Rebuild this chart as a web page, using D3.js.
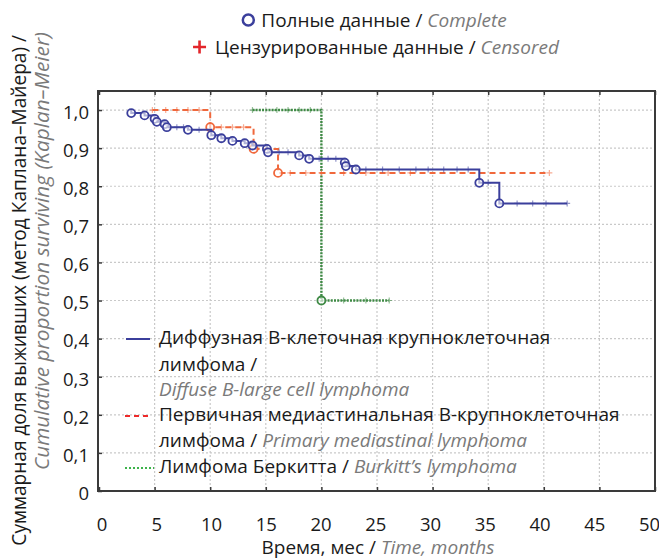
<!DOCTYPE html>
<html>
<head>
<meta charset="utf-8">
<script src="https://cdn.jsdelivr.net/npm/d3@7/dist/d3.min.js"></script>
<style>
  html, body { margin: 0; padding: 0; background: #fff; }
  svg { display: block; font-family: "Open Sans", "Noto Sans", sans-serif; }
</style>
</head>
<body>
<svg id="chart" width="659" height="560"></svg>
<script>
// Kaplan–Meier survival by lymphoma type (time in months)

// Diffuse large B-cell lymphoma: event times and survival after each event
const dlbclStart = 2.9;
const dlbclEnd = 42.1;
const dlbclTimes = [2.9, 4.1, 5.0, 5.2, 5.9, 6.1, 8.0, 10.1, 11.0, 12.0, 13.1, 13.8, 15.1, 15.2, 18.0, 18.9, 22.1, 22.2, 23.1, 34.2, 36.0];
const dlbclSurv  = [0.992, 0.986, 0.977, 0.969, 0.963, 0.955, 0.948, 0.934, 0.926, 0.919, 0.913, 0.907, 0.898, 0.889, 0.881, 0.872, 0.862, 0.853, 0.844, 0.809, 0.755];
const dlbclCensored = [7.0, 7.6, 9.0, 16.2, 17.0, 19.8, 20.6, 21.3, 24.0, 25.5, 27.0, 28.5, 29.6, 31.0, 32.2, 33.2, 35.0, 37.6, 39.0, 40.2, 42.1];

// Primary mediastinal large B-cell lymphoma
const pmblStart = 4.8;
const pmblEnd = 40.5;
const pmblTimes = [10.0, 13.9, 16.1];
const pmblSurv  = [0.955, 0.898, 0.835];
const pmblCensored = [4.8, 6.0, 7.0, 8.0, 9.0, 11.0, 12.0, 13.0, 15.0, 17.2, 18.6, 20.0, 22.0, 24.0, 26.0, 28.0, 40.5];

// Burkitt's lymphoma
const burkittStart = 13.8;
const burkittEnd = 26.1;
const burkittTimes = [20.0];
const burkittSurv  = [0.5];
const burkittCensored = [13.8, 16.0, 17.0, 18.0, 19.0, 22.0, 24.0, 26.1];

// Axis ticks
const xTicks = [0, 5, 10, 15, 20, 25, 30, 35, 40, 45, 50];
const yTicks = [0, 0.1, 0.2, 0.3, 0.4, 0.5, 0.6, 0.7, 0.8, 0.9, 1.0];

const svg = d3.select("#chart");
const frame = { left: 98, right: 655, top: 91, bottom: 491 };
const FS = 19;

const x = d3.scaleLinear().domain([0, 50]).range([frame.left + 1, frame.right]);
const y = d3.scaleLinear().domain([0, 1.05]).range([frame.bottom, frame.top]);

const colors = {
  dlbcl: "#3b3f9c",
  pmbl: "#f0683c",
  pmblLegend: "#ee2a2a",
  burkitt: "#3f8a45",
  burkittLegend: "#3db34b",
  grid: "#c9c9c9",
  axis: "#3a3a3a",
  text: "#1a1a1a",
  sub: "#7a7a7a",
  censorMark: "#e3262b"
};

// Grid
const grid = svg.append("g");
grid.selectAll("line.gx")
  .data(xTicks.filter(d => d > 0 && d < 50))
  .join("line")
  .attr("x1", d => x(d)).attr("x2", d => x(d))
  .attr("y1", frame.top).attr("y2", frame.bottom)
  .attr("stroke", colors.grid).attr("stroke-width", 1.2)
  .attr("stroke-dasharray", "2,2");
grid.selectAll("line.gy")
  .data(yTicks.filter(d => d > 0))
  .join("line")
  .attr("y1", d => y(d)).attr("y2", d => y(d))
  .attr("x1", frame.left).attr("x2", frame.right)
  .attr("stroke", colors.grid).attr("stroke-width", 1.2)
  .attr("stroke-dasharray", "2,2");

// Axes with inward ticks
const fmt = d => d === 0 ? "0" : d3.format(".1f")(d).replace(".", ",");
const yAxis = svg.append("g")
  .attr("transform", `translate(${frame.left},0)`)
  .call(d3.axisLeft(y).tickValues(yTicks).tickSize(-4).tickPadding(9).tickFormat(fmt));
const xAxis = svg.append("g")
  .attr("transform", `translate(0,${frame.bottom})`)
  .call(d3.axisBottom(x).tickValues(xTicks).tickSize(-4).tickPadding(27).tickFormat(d3.format("d")));
svg.append("g")
  .attr("transform", `translate(0,${frame.top})`)
  .call(d3.axisTop(x).tickValues(xTicks).tickSize(-4).tickFormat(""));

[yAxis, xAxis].forEach(g => {
  g.selectAll(".tick text")
    .attr("fill", colors.text)
    .style("font-size", "18.5px")
    .style("font-family", "'Open Sans', sans-serif");
});
yAxis.selectAll(".tick text").attr("dy", "0.45em");
// time labels sit slightly inward toward the right end
xAxis.selectAll(".tick text").attr("dx", d => 2.5 - d * 0.17);
svg.selectAll(".domain").remove();
svg.selectAll(".tick line").attr("stroke", colors.axis).attr("stroke-width", 1.5);

// Step path helper
function stepPoints(start, end, times, surv) {
  const pts = [[start, 1.0]];
  let level = 1.0;
  times.forEach((t, i) => {
    pts.push([t, level]);
    level = surv[i];
    pts.push([t, level]);
  });
  pts.push([end, level]);
  return pts;
}
function levelAt(t, times, surv) {
  let level = 1.0;
  times.forEach((ti, i) => { if (ti <= t) level = surv[i]; });
  return level;
}
const line = d3.line().x(d => x(d[0])).y(d => y(d[1]));

const series = [
  { key: "burkitt", start: burkittStart, end: burkittEnd, times: burkittTimes, surv: burkittSurv, cens: burkittCensored,
    color: colors.burkitt, width: 2.4, dash: "2,1.2" },
  { key: "pmbl", start: pmblStart, end: pmblEnd, times: pmblTimes, surv: pmblSurv, cens: pmblCensored,
    color: colors.pmbl, width: 2, dash: "6,4" },
  { key: "dlbcl", start: dlbclStart, end: dlbclEnd, times: dlbclTimes, surv: dlbclSurv, cens: dlbclCensored,
    color: colors.dlbcl, width: 2, dash: null }
];

const plot = svg.append("g");
series.forEach(s => {
  plot.append("path")
    .datum(stepPoints(s.start, s.end, s.times, s.surv))
    .attr("d", line)
    .attr("fill", "none")
    .attr("stroke", s.color)
    .attr("stroke-width", s.width)
    .attr("stroke-dasharray", s.dash);

  // censored observations
  plot.append("g").selectAll("path")
    .data(s.cens)
    .join("path")
    .attr("d", t => {
      const cx = x(t), cy = y(levelAt(t, s.times, s.surv));
      return `M${cx - 3},${cy}H${cx + 3}M${cx},${cy - 3}V${cy + 3}`;
    })
    .attr("stroke", s.color)
    .attr("stroke-opacity", 0.55)
    .attr("stroke-width", 1.2)
    .attr("fill", "none");

  // complete observations (events)
  plot.append("g").selectAll("circle")
    .data(s.times.map((t, i) => [t, s.surv[i]]))
    .join("circle")
    .attr("cx", d => x(d[0]))
    .attr("cy", d => y(d[1]))
    .attr("r", 4)
    .attr("fill", "#fff")
    .attr("fill-opacity", 0.6)
    .attr("stroke", s.color)
    .attr("stroke-width", 1.8);
});

// Frame
svg.append("rect")
  .attr("x", frame.left).attr("y", frame.top)
  .attr("width", frame.right - frame.left).attr("height", frame.bottom - frame.top)
  .attr("fill", "none").attr("stroke", colors.axis).attr("stroke-width", 2);

// Marker legend at top
const markerLegend = svg.append("g").style("font-size", FS + "px");
const t1 = markerLegend.append("text").attr("x", 384).attr("y", 27).attr("text-anchor", "middle");
t1.append("tspan").attr("fill", colors.text).text("Полные данные / ");
t1.append("tspan").attr("fill", colors.sub).attr("font-style", "italic").text("Complete");
const t2 = markerLegend.append("text").attr("x", 387).attr("y", 54).attr("text-anchor", "middle");
t2.append("tspan").attr("fill", colors.text).text("Цензурированные данные / ");
t2.append("tspan").attr("fill", colors.sub).attr("font-style", "italic").text("Censored");
const b1 = t1.node().getBBox();
markerLegend.append("circle").attr("cx", b1.x - 13).attr("cy", 20).attr("r", 5.5)
  .attr("fill", "none").attr("stroke", colors.dlbcl).attr("stroke-width", 2.5);
const b2 = t2.node().getBBox();
markerLegend.append("path")
  .attr("d", `M${b2.x - 22},47H${b2.x - 9}M${b2.x - 15.5},40.5V53.5`)
  .attr("stroke", colors.censorMark).attr("stroke-width", 2.6);

// Series legend inside plot
const leg = svg.append("g").style("font-size", FS + "px");
const legendRows = [
  { y: 344, parts: [["Диффузная В-клеточная крупноклеточная", false]] },
  { y: 371, parts: [["лимфома /", false]] },
  { y: 396, parts: [["Diffuse B-large cell lymphoma", true]] },
  { y: 421, parts: [["Первичная медиастинальная В-крупноклеточная", false]] },
  { y: 447, parts: [["лимфома / ", false], ["Primary mediastinal lymphoma", true]] },
  { y: 473, parts: [["Лимфома Беркитта / ", false], ["Burkitt’s lymphoma", true]] }
];
legendRows.forEach(r => {
  const t = leg.append("text").attr("x", 159).attr("y", r.y);
  r.parts.forEach(([txt, it]) => {
    t.append("tspan")
      .attr("fill", it ? colors.sub : colors.text)
      .attr("font-style", it ? "italic" : null)
      .text(txt);
  });
});
leg.append("line").attr("x1", 126).attr("x2", 150).attr("y1", 339).attr("y2", 339)
  .attr("stroke", colors.dlbcl).attr("stroke-width", 2);
leg.append("line").attr("x1", 125).attr("x2", 151).attr("y1", 416).attr("y2", 416)
  .attr("stroke", colors.pmblLegend).attr("stroke-width", 2.2).attr("stroke-dasharray", "5,4");
leg.append("line").attr("x1", 125).attr("x2", 154).attr("y1", 468).attr("y2", 468)
  .attr("stroke", colors.burkittLegend).attr("stroke-width", 2).attr("stroke-dasharray", "2,2");

// Axis titles
const xt = svg.append("text").attr("x", 378).attr("y", 554).attr("text-anchor", "middle").style("font-size", FS + "px");
xt.append("tspan").attr("fill", colors.text).text("Время, мес / ");
xt.append("tspan").attr("fill", colors.sub).attr("font-style", "italic").text("Time, months");

// Vertical title: two rotated lines, each sized to its span along the axis
function rotatedTitle(text, bx, yTop, yBottom, fill, italic) {
  const t = svg.append("text")
    .attr("transform", `translate(${bx},${yTop}) rotate(-90)`)
    .attr("text-anchor", "end")
    .attr("fill", fill)
    .attr("font-style", italic ? "italic" : null)
    .style("font-size", FS + "px")
    .text(text);
  const len = t.node().getComputedTextLength();
  t.style("font-size", (FS * (yBottom - yTop) / len).toFixed(2) + "px");
}
rotatedTitle("Суммарная доля выживших (метод Каплана–Майера) /", 26, 35, 546, colors.text, false);
rotatedTitle("Cumulative proportion surviving (Kaplan–Meier)", 49, 32, 470, colors.sub, true);
</script>
</body>
</html>
